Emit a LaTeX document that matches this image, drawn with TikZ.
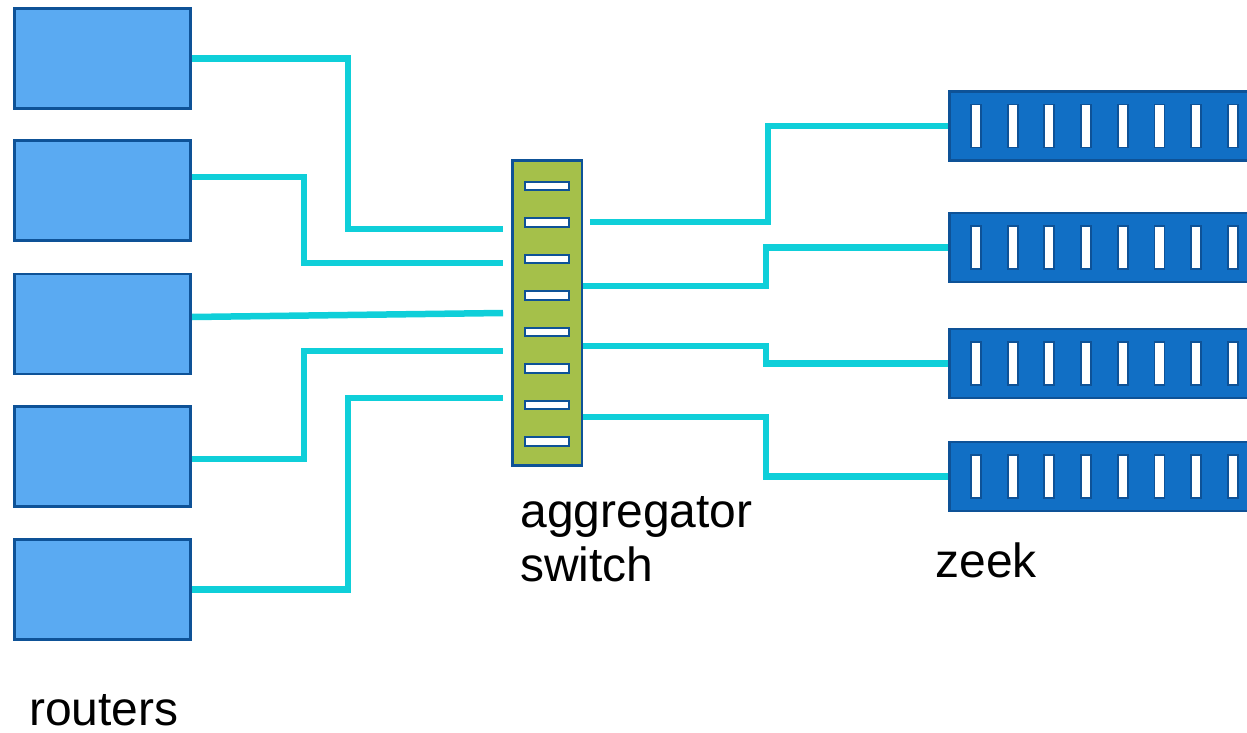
\documentclass[tikz,border=0pt]{standalone}
\usepackage{fontspec}
\setmainfont{Liberation Sans}
\usetikzlibrary{backgrounds}
\definecolor{routerblue}{RGB}{90,170,242}
\definecolor{rimblue}{RGB}{14,82,151}
\definecolor{switchgreen}{RGB}{165,192,74}
\definecolor{zeekblue}{RGB}{17,111,197}
\definecolor{wirecyan}{RGB}{15,207,217}

\begin{document}
\begin{tikzpicture}[x=0.02cm,y=-0.02cm,
    router/.style={draw=rimblue,line width=1.42pt,fill=routerblue,inner sep=0,
      minimum width=3.53cm,minimum height=2.01cm},
    switchbox/.style={draw=rimblue,line width=1.42pt,fill=switchgreen,inner sep=0,
      minimum width=1.39cm,minimum height=6.11cm},
    port/.style={draw=rimblue,line width=1.1pt,fill=white,inner sep=0,
      minimum width=0.88cm,minimum height=0.17cm},
    zeekbox/.style={draw=rimblue,line width=1.42pt,fill=zeekblue,inner sep=0,
      minimum width=6.4cm,minimum height=1.39cm},
    slot/.style={draw=rimblue,line width=1.1pt,fill=white,inner sep=0,
      minimum width=0.2cm,minimum height=0.86cm},
    wire/.style={draw=wirecyan,line width=3.7pt},
    lbl/.style={anchor=base west,inner sep=0,font=\fontsize{27.3}{30.2}\selectfont}]
  \useasboundingbox (0,0) rectangle (1247,733);

  % routers
  \foreach \y [count=\i] in {58.5,190.5,324,456.5,589.5}
    \node[router] (r\i) at (102.5,\y) {};

  % aggregator switch with its ports
  \node[switchbox] (sw) at (547,313) {};
  \foreach \i in {1,...,8}
    \node[port] (p\i) at (547,{186+36.5*(\i-1)}) {};

  % zeek boxes
  \begin{scope}
    \clip (0,0) rectangle (1247,733);
    \foreach \y [count=\i] in {126,247.5,363.5,476.5}{
      \node[zeekbox] (z\i) at (1109.25,\y) {};
      \foreach \k in {1,...,8}
        \node[slot] (z\i-\k) at ({976+36.7*(\k-1)},\y) {};
    }
  \end{scope}

  % cabling
  \begin{scope}[on background layer]
    \coordinate (in1) at ([shift={(-8,-84)}]sw.west);
    \coordinate (in2) at ([shift={(-8,-50)}]sw.west);
    \coordinate (in3) at ([shift={(-8,0)}]sw.west);
    \coordinate (in4) at ([shift={(-8,38)}]sw.west);
    \coordinate (in5) at ([shift={(-8,85)}]sw.west);
    \coordinate (out1) at ([shift={(7,-91)}]sw.east);

    \draw[wire] (r1.east) -- ++(156,0) |- (in1);
    \draw[wire] ([shift={(0,-13.5)}]r2.east) -- ++(112,0) |- (in2);
    \draw[wire] ([shift={(0,-7)}]r3.east) -- (in3);
    \draw[wire] ([shift={(0,2.5)}]r4.east) -- ++(112,0) |- (in4);
    \draw[wire] (r5.east) -- ++(156,0) |- (in5);

    \draw[wire] (out1) -- ++(178,0) |- (z1.west);
    \draw[wire] ([shift={(0,-27)}]sw.east) -- ++(183,0) |- (z2.west);
    \draw[wire] ([shift={(0,33)}]sw.east) -- ++(183,0) |- (z3.west);
    \draw[wire] ([shift={(0,104)}]sw.east) -- ++(183,0) |- (z4.west);
  \end{scope}

  % labels
  \node[lbl] (routers) at (29,725) {routers};
  \node[lbl,align=left] (aggr) at (520,581) {aggregator\\switch};
  \node[lbl] (zeek) at (935,577) {zeek};
\end{tikzpicture}
\end{document}
